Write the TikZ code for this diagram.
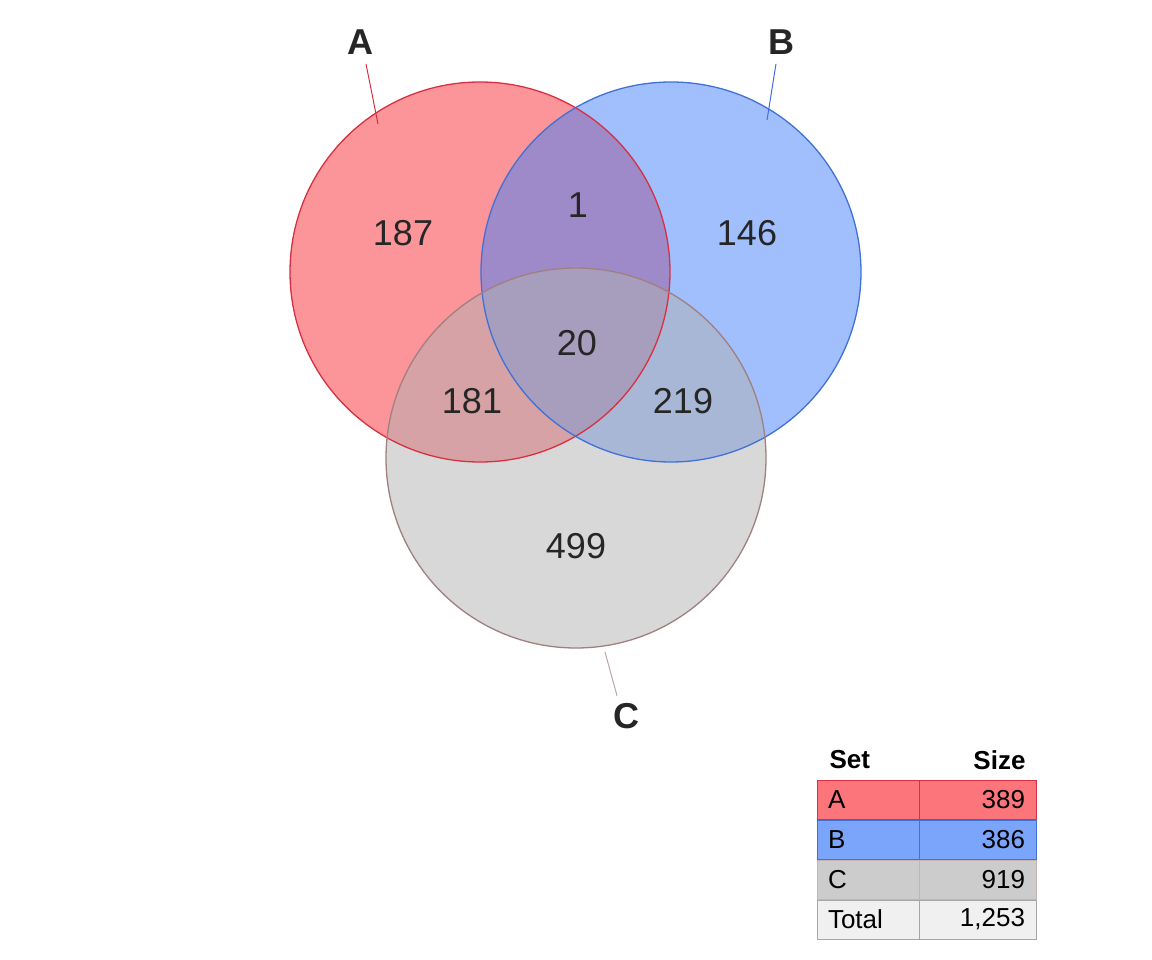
\documentclass[tikz,border=0pt]{standalone}
\usepackage{fontspec}
\setmainfont{Liberation Sans}
\begin{document}
\begin{tikzpicture}[x=1pt,y=-1pt,
 num/.style={font=\fontsize{36}{40}\selectfont,text=black!85},
 lab/.style={font=\fontsize{36}{40}\selectfont\bfseries,text=black!85},
 cell/.style={draw,minimum width=117pt,minimum height=39pt,inner sep=6pt,font=\fontsize{26}{30}\selectfont,outer sep=0pt}]
\useasboundingbox (0,0) rectangle (1152,960);
\definecolor{ca}{RGB}{249,43,51}\definecolor{cb}{RGB}{65,127,249}\definecolor{cc}{RGB}{177,177,177}
\definecolor{ea}{RGB}{216,48,64}\definecolor{eb}{RGB}{64,112,216}\definecolor{ec}{RGB}{160,128,128}
\fill[ca,opacity=.5] (480,272) circle (190);
\fill[cb,opacity=.5] (671,272) circle (190);
\fill[cc,opacity=.5] (576,458) circle (190);
\draw[ea,line width=1.3pt] (480,272) circle (190);
\draw[eb,line width=1.3pt] (671,272) circle (190);
\draw[ec,line width=1.3pt] (576,458) circle (190);
\node[num] (n1) at (403,233) {187};
\node[num] (n2) at (578,205) {1};
\node[num] (n3) at (747,233) {146};
\node[num] (n4) at (577,343) {20};
\node[num] (n5) at (472,401) {181};
\node[num] (n6) at (683,401) {219};
\node[num] (n7) at (576,546) {499};
\node[lab] (la) at (360,42) {A};
\node[lab] (lb) at (781,42) {B};
\node[lab] (lc) at (626,716) {C};
\coordinate (pa) at (378,124); \coordinate (pb) at (767,120); \coordinate (pc) at (605,652);
\draw[ea,line width=1pt] (la.south) ++(6,6) -- (pa);
\draw[eb,line width=1pt] (lb.south) ++(-5,6) -- (pb);
\draw[ec!70,line width=1pt] (lc.north) ++(-9,-4) -- (pc);
\node[font=\fontsize{26}{30}\selectfont\bfseries,anchor=west] (hs) at (826,760) {Set};
\node[font=\fontsize{26}{30}\selectfont\bfseries,anchor=east] (hz) at (1029,760) {Size};
\node[cell,ea,fill=ca!65,text=black,minimum width=102pt,text width=80pt,align=left] (a1) at (868,799.5) {A};
\node[cell,ea,fill=ca!65,text=black,text width=95pt,align=right] (a2) at (977.5,799.5) {389};
\node[cell,eb,fill=cb!70,text=black,minimum width=102pt,text width=80pt,align=left] (b1) at (868,839.5) {B};
\node[cell,eb,fill=cb!70,text=black,text width=95pt,align=right] (b2) at (977.5,839.5) {386};
\node[cell,ec!60,fill=black!20,text=black,minimum width=102pt,text width=80pt,align=left] (c1) at (868,879.5) {C};
\node[cell,ec!60,fill=black!20,text=black,text width=95pt,align=right] (c2) at (977.5,879.5) {919};
\node[cell,black!35,fill=black!6,text=black,minimum width=102pt,text width=80pt,align=left] (t1) at (868,919.5) {Total};
\node[cell,black!35,fill=black!6,text=black,text width=95pt,align=right] (t2) at (977.5,919.5) {1,253};
\end{tikzpicture}
\end{document}
